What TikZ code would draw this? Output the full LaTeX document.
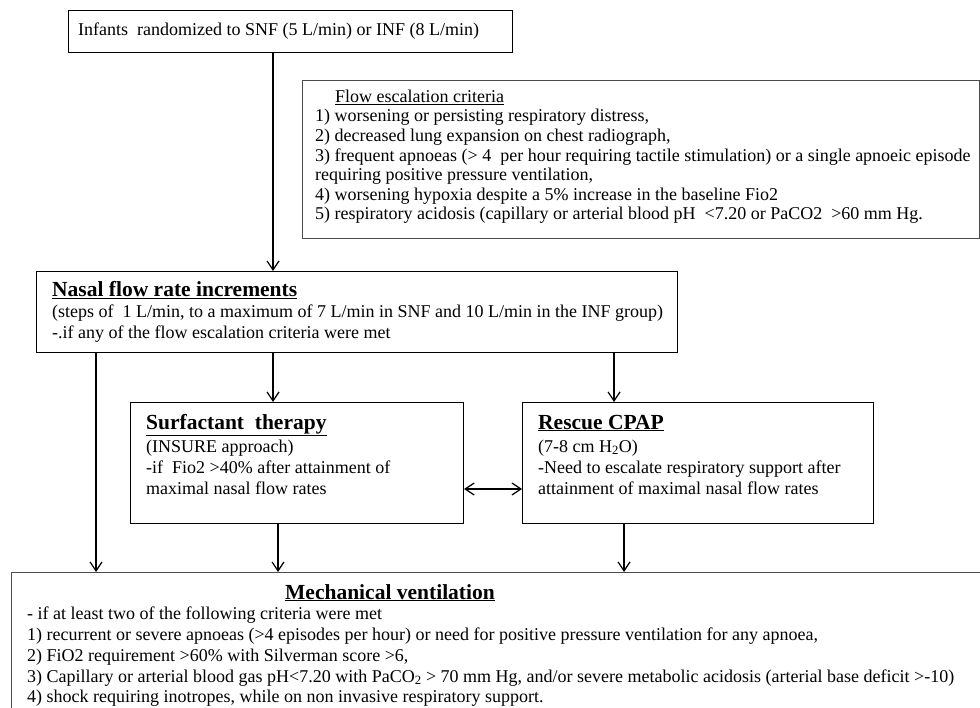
\documentclass[tikz,border=0pt]{standalone}
\usepackage{fontspec}
\setmainfont{Liberation Serif}
\usetikzlibrary{arrows.meta}
\begin{document}
\begin{tikzpicture}[x=1pt,y=-1pt,
  box/.style={draw=black, line width=1.1pt, inner sep=0pt, anchor=north west},
  graybox/.style={box, draw=black!70},
  txt/.style={anchor=base west, inner sep=0pt, font=\fontsize{18}{21}\selectfont},
  ttl/.style={anchor=base west, inner sep=0pt, font=\fontsize{21.5}{24}\selectfont\bfseries},
  arr/.style={-{Straight Barb[length=9pt,width=12pt,line width=1.2pt]}, line width=1.3pt},
  darr/.style={{Straight Barb[length=9pt,width=12pt,line width=1.2pt]}-{Straight Barb[length=9pt,width=12pt,line width=1.2pt]}, line width=1.3pt},
]
\clip (0,0) rectangle (980,708);
\fill[white] (0,0) rectangle (980,708);

% boxes
\node[box, minimum width=444pt, minimum height=42pt] (top) at (68,10) {};
\node[graybox, minimum width=677pt, minimum height=158pt] (flow) at (302,80) {};
\node[box, minimum width=641pt, minimum height=81pt] (nasal) at (36,271) {};
\node[box, minimum width=333pt, minimum height=121pt] (surf) at (130,402) {};
\node[box, minimum width=351pt, minimum height=121pt] (resc) at (522,402) {};
\node[graybox, minimum width=990pt, minimum height=160pt] (mech) at (11,572) {};

% top text
\node[txt] (t1) at (78,36) {Infants\ \ randomized to SNF (5 L/min) or INF (8 L/min)};

% flow escalation text
\node[txt] (f0) at (335,103) {\underline{Flow escalation criteria}};
\node[txt] (f1) at (315,122) {1) worsening or persisting respiratory distress,};
\node[txt] (f2) at (315,142) {2) decreased lung expansion on chest radiograph,};
\node[txt] (f3) at (315,162) {3) frequent apnoeas (>\ 4\ \ per hour requiring tactile stimulation) or a single apnoeic episode};
\node[txt] (f4) at (315,181) {requiring positive pressure ventilation,};
\node[txt] (f5) at (315,201) {4) worsening hypoxia despite a 5\% increase in the baseline Fio2};
\node[txt] (f6) at (315,220) {5) respiratory acidosis (capillary or arterial blood pH\ \ <7.20 or PaCO2\ \ >60 mm Hg.};

% nasal text
\node[ttl] (n0) at (52,297) {\underline{Nasal flow rate increments}};
\node[txt] (n1) at (52,318) {(steps of\ \ 1 L/min, to a maximum of 7 L/min in SNF and 10 L/min in the INF group)};
\node[txt] (n2) at (52,339) {-.if any of the flow escalation criteria were met};

% surfactant text
\node[ttl] (s0) at (146,429) {\underline{Surfactant\ \ therapy}};
\node[txt] (s1) at (146,452) {(INSURE approach)};
\node[txt] (s2) at (146,473) {-if\ \ Fio2 >40\% after attainment of};
\node[txt] (s3) at (146,494) {maximal nasal flow rates};

% rescue text
\node[ttl] (r0) at (538,429) {\underline{Rescue CPAP}};
\node[txt] (r1) at (538,452) {(7-8 cm H\textsubscript{2}O)};
\node[txt] (r2) at (538,473) {-Need to escalate respiratory support after};
\node[txt] (r3) at (538,494) {attainment of maximal nasal flow rates};

% mechanical ventilation text
\node[ttl] (m0) at (285,599) {\underline{Mechanical ventilation}};
\node[txt] (m1) at (27,619) {- if at least two of the following criteria were met};
\node[txt] (m2) at (27,640) {1) recurrent or severe apnoeas (>4 episodes per hour) or need for positive pressure ventilation for any apnoea,};
\node[txt] (m3) at (27,661) {2) FiO2 requirement >60\% with Silverman score >6,};
\node[txt] (m4) at (27,682) {3) Capillary or arterial blood gas pH<7.20 with PaCO\textsubscript{2} > 70 mm Hg, and/or severe metabolic acidosis (arterial base deficit >-10)};
\node[txt] (m5) at (27,702) {4) shock requiring inotropes, while on non invasive respiratory support.};

% x positions for connectors
\coordinate (xa) at (273,0);
\coordinate (xb) at (96,0);
\coordinate (xc) at (614,0);
\coordinate (xd) at (278,0);
\coordinate (xe) at (624,0);
\coordinate (yd) at (0,489);

\draw[arr] (top.south -| xa) -- (nasal.north -| xa);
\draw[arr] (nasal.south -| xa) -- (surf.north -| xa);
\draw[arr] (nasal.south -| xc) -- (resc.north -| xc);
\draw[arr] (nasal.south -| xb) -- (mech.north -| xb);
\draw[arr] (surf.south -| xd) -- (mech.north -| xd);
\draw[arr] (resc.south -| xe) -- (mech.north -| xe);
\draw[darr] (surf.east |- yd) -- (resc.west |- yd);
\end{tikzpicture}
\end{document}
